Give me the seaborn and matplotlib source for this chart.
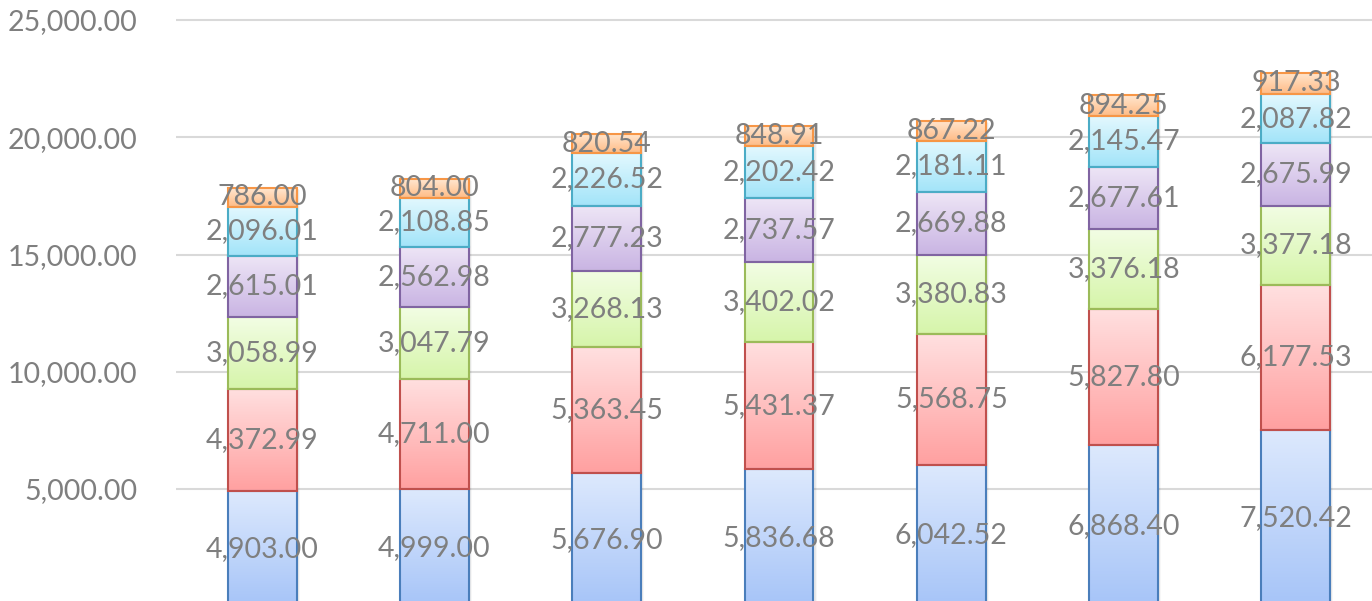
# Se importan librerías
import numpy as np
import pandas as pd
import matplotlib.pyplot as plt
import seaborn as sns
from matplotlib.colors import LinearSegmentedColormap
from matplotlib.patches import Rectangle

#------------------------------------------------------------------------------
# Datos
#------------------------------------------------------------------------------

categorias = ["1", "2", "3", "4", "5", "6", "7"]
serie_1 = [4903.00, 4999.00, 5676.90, 5836.68, 6042.52, 6868.40, 7520.42]
serie_2 = [4372.99, 4711.00, 5363.45, 5431.37, 5568.75, 5827.80, 6177.53]
serie_3 = [3058.99, 3047.79, 3268.13, 3402.02, 3380.83, 3376.18, 3377.18]
serie_4 = [2615.01, 2562.98, 2777.23, 2737.57, 2669.88, 2677.61, 2675.99]
serie_5 = [2096.01, 2108.85, 2226.52, 2202.42, 2181.11, 2145.47, 2087.82]
serie_6 = [786.00, 804.00, 820.54, 848.91, 867.22, 894.25, 917.33]
y_ticks = [5000, 10000, 15000, 20000, 25000]

series = [serie_1, serie_2, serie_3, serie_4, serie_5, serie_6]

# (color arriba, color abajo, borde)
estilos = [
    ("#dde9fd", "#a6c4f8", "#4a7ebb"),
    ("#ffe0e0", "#ffa0a0", "#c0504d"),
    ("#f2fde4", "#d6f5aa", "#9bbb59"),
    ("#eee6f6", "#c9b4e3", "#8064a2"),
    ("#e3f8fe", "#a2e4f9", "#4bacc6"),
    ("#ffe7d0", "#ffbb85", "#f79646"),
]

#------------------------------------------------------------------------------
# Gráfico
#------------------------------------------------------------------------------

sns.set_style("white")
plt.rcParams["font.family"] = ["Lato", "DejaVu Sans"]

fig = plt.figure(figsize=(13.72, 6.01), dpi=100)
ax = fig.add_axes([176 / 1372, 0, 1206 / 1372, 1])

gris = "#7f7f7f"
base = np.zeros(len(categorias))

for valores, (c_top, c_bot, c_edge) in zip(series, estilos):
    df = pd.DataFrame({"categoria": categorias, "valor": valores})
    n_antes = len(ax.patches)
    sns.barplot(data=df, x="categoria", y="valor", bottom=base, width=0.4,
                color=c_bot, saturation=1, edgecolor=c_edge, linewidth=1.5,
                errorbar=None, ax=ax, zorder=3)
    cmap = LinearSegmentedColormap.from_list("g", [c_bot, c_top])
    grad = np.linspace(0, 1, 256).reshape(-1, 1)
    for p, v in list(zip(ax.patches[n_antes:], valores)):
        x0, y0 = p.get_x(), p.get_y()
        w, h = p.get_width(), p.get_height()
        p.set_facecolor("none")
        ax.imshow(grad, cmap=cmap, origin="lower", aspect="auto",
                  extent=(x0, x0 + w, y0, y0 + h), zorder=2,
                  interpolation="bilinear")
        # sombra suave a la derecha
        for k, a in [(1, 0.10), (2, 0.06), (3, 0.03)]:
            ax.add_patch(Rectangle((x0 + 0.006 * k, y0 - 30 * k), w, h,
                                   facecolor="k", edgecolor="none",
                                   alpha=a, zorder=1))
        ax.text(x0 + w / 2, y0 + h / 2, f"{v:,.2f}", ha="center",
                va="center", fontsize=20.5, color=gris, zorder=5)
    base = base + np.array(valores)

ax.set_xlim(-0.5, 6.5)
ax.set_ylim(224, 25853)
ax.set_yticks(y_ticks)
ax.set_yticklabels([f"{t:,.2f}" for t in y_ticks], fontsize=20.5, color=gris)
ax.tick_params(axis="y", length=0, pad=28)
ax.set_xticks([])
ax.set_xlabel("")
ax.set_ylabel("")
ax.grid(axis="y", color="#d9d9d9", linewidth=1.5, zorder=0)
ax.set_axisbelow(True)
sns.despine(ax=ax, left=True, bottom=True, right=True, top=True)

fig.savefig("out.png", dpi=100)
